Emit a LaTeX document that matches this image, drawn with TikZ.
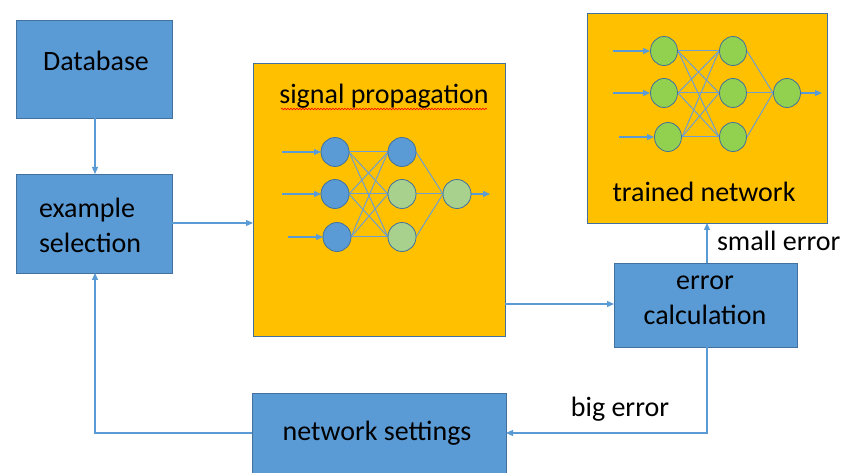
\documentclass[tikz,border=0pt]{standalone}
\usepackage{fontspec}
\setmainfont{Carlito}
\usetikzlibrary{arrows.meta,decorations.pathmorphing}
\definecolor{boxblue}{HTML}{5B9BD5}
\definecolor{edgeblue}{HTML}{41719C}
\definecolor{panel}{HTML}{FFC000}
\definecolor{leaf}{HTML}{92D050}
\definecolor{pale}{HTML}{A9D18E}
\definecolor{wire}{HTML}{6F9FCF}
\begin{document}
\begin{tikzpicture}[x=1pt,y=-1pt,
  every node/.style={inner sep=0pt,outer sep=0pt},
  bluebox/.style={draw=edgeblue,fill=boxblue,line width=0.8pt},
  panelbox/.style={draw=edgeblue,fill=panel,line width=0.8pt},
  lbl/.style={font=\fontsize{28}{35}\selectfont,text=black},
  flow/.style={draw=boxblue,line width=1.2pt,-{Triangle[length=7pt,width=6pt]}},
  neuron/.style={circle,minimum size=28pt},
  cell/.style={draw=edgeblue,line width=0.8pt},
  syn/.style={draw=wire,line width=1pt},
  inarrow/.style={draw=boxblue,line width=1.2pt,-{Triangle[length=7pt,width=6pt]}}]
\useasboundingbox (0,0) rectangle (841,473);
\clip (0,0) rectangle (841,473);

% main boxes
\path[bluebox] (16,20) rectangle (172,118);
\coordinate (dbS) at (95,118);
\path[bluebox] (16,174) rectangle (172,273);
\coordinate (esN) at (95,174);
\coordinate (esE) at (172,223);
\coordinate (esS) at (95,273);
\path[panelbox] (253,63) rectangle (505,336);
\coordinate (spW) at (253,223);
\coordinate (spE) at (505,304);
\path[panelbox] (587,13) rectangle (827,223);
\coordinate (tnS) at (707,223);
\path[bluebox] (614,263) rectangle (797,347);
\coordinate (ecN) at (707,263);
\coordinate (ecW) at (614,304);
\coordinate (ecS) at (707,347);
\path[bluebox] (252,393) rectangle (506,480);
\coordinate (nsE) at (506,433);
\coordinate (nsW) at (252,433);

% labels
\node[lbl] (tdb) at (96,61) {Database};
\node[lbl,align=left,anchor=west] (tes) at (39,225) {example\\selection};
\node[lbl] (tsp) at (384,96) {signal propagation};
\node[lbl] (ttn) at (704,192) {trained network};
\node[lbl,align=center] (tec) at (705,300) {error\\calculation};
\node[lbl] (tns) at (377,433) {network settings};
\node[lbl,anchor=west] (tse) at (717,241) {small error};
\node[lbl] (tbe) at (620,409) {big error};
\draw[red,line width=0.6pt,decorate,decoration={snake,amplitude=0.8pt,segment length=3pt}]
  (281,109) -- (487,109);

% flow connectors
\draw[flow] (dbS) -- (esN);
\draw[flow] (esE) -- (spW);
\draw[flow] (spE) -- (ecW);
\draw[flow] (ecN) -- (tnS);
\draw[flow] (ecS) |- (nsE);
\draw[flow] (nsW) -| (esS);

% network inside the signal propagation panel
\node[neuron] (a1) at (335,152) {};
\node[neuron] (a2) at (335,194) {};
\node[neuron] (a3) at (337,237) {};
\node[neuron] (b1) at (402,152) {};
\node[neuron] (b2) at (402,194) {};
\node[neuron] (b3) at (402,237) {};
\node[neuron] (c1) at (457,194) {};
\foreach \i in {1,2,3}{\foreach \j in {1,2,3}{\draw[syn] (a\i.east) -- (b\j.west);}}
\foreach \j in {1,2,3}{\draw[syn] (b\j.east) -- (c1.west);}
\coordinate (ai1) at (282,152);
\coordinate (ai2) at (282,194);
\coordinate (ai3) at (288,237);
\coordinate (ao) at (490,194);
\draw[inarrow] (ai1) -- (a1.west);
\draw[inarrow] (ai2) -- (a2.west);
\draw[inarrow] (ai3) -- (a3.west);
\draw[inarrow] (c1.east) -- (ao);
\foreach \n/\c in {a1/boxblue,a2/boxblue,a3/boxblue,b1/boxblue,b2/pale,b3/pale,c1/pale}
  {\path[cell,fill=\c] (\n) ellipse (14pt and 14.5pt);}

% trained network
\node[neuron] (p1) at (664,51) {};
\node[neuron] (p2) at (664,93) {};
\node[neuron] (p3) at (668,137) {};
\node[neuron] (q1) at (733,51) {};
\node[neuron] (q2) at (733,93) {};
\node[neuron] (q3) at (733,137) {};
\node[neuron] (r1) at (787,93) {};
\foreach \i in {1,2,3}{\foreach \j in {1,2,3}{\draw[syn] (p\i.east) -- (q\j.west);}}
\foreach \j in {1,2,3}{\draw[syn] (q\j.east) -- (r1.west);}
\coordinate (pi1) at (613,51);
\coordinate (pi2) at (613,93);
\coordinate (pi3) at (619,137);
\coordinate (po) at (822,93);
\draw[inarrow] (pi1) -- (p1.west);
\draw[inarrow] (pi2) -- (p2.west);
\draw[inarrow] (pi3) -- (p3.west);
\draw[inarrow] (r1.east) -- (po);
\foreach \n in {p1,p2,p3,q1,q2,q3,r1}
  {\path[cell,fill=leaf] (\n) ellipse (13.5pt and 14.5pt);}
\end{tikzpicture}
\end{document}
